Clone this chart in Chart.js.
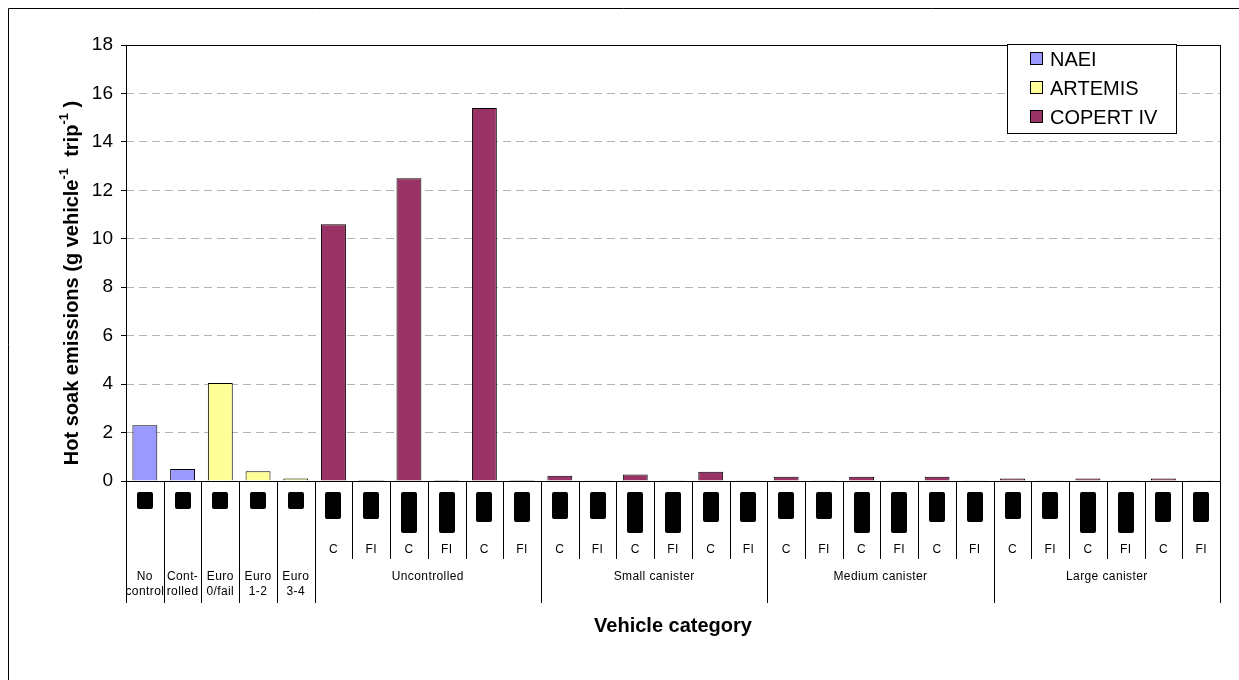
<!DOCTYPE html>
<html>
<head>
<meta charset="utf-8">
<script src="https://cdn.jsdelivr.net/npm/chart.js@4.4.1/dist/chart.umd.min.js"></script>
<style>
  html, body { margin: 0; padding: 0; background: #fff; }
  #wrap { width: 1239px; height: 680px; }
</style>
</head>
<body>
<div id="wrap"><canvas id="chart" width="1239" height="680"></canvas></div>
<script>
// ---- data ----
const topLabels = [["No", "control"], ["Cont-", "rolled"], ["Euro", "0/fail"], ["Euro", "1-2"], ["Euro", "3-4"]];
const subLabels = ["", "", "", "", "",
  "C", "FI", "C", "FI", "C", "FI",
  "C", "FI", "C", "FI", "C", "FI",
  "C", "FI", "C", "FI", "C", "FI",
  "C", "FI", "C", "FI", "C", "FI"];
const groupNames = ["Uncontrolled", "Small canister", "Medium canister", "Large canister"];
const groupSizes = [6, 6, 6, 6];
// engine size class of each category (drawn as blocks under the axis)
const sizeClass = [0, 0, 0, 0, 0,
  1, 1, 2, 2, 3, 3,
  1, 1, 2, 2, 3, 3,
  1, 1, 2, 2, 3, 3,
  1, 1, 2, 2, 3, 3];

const naei = [2.3, 0.5, null, null, null,
  null, null, null, null, null, null,
  null, null, null, null, null, null,
  null, null, null, null, null, null,
  null, null, null, null, null, null];
const artemis = [null, null, 4.05, 0.4, 0.1,
  null, null, null, null, null, null,
  null, null, null, null, null, null,
  null, null, null, null, null, null,
  null, null, null, null, null, null];
const copert = [null, null, null, null, null,
  10.6, 0.04, 12.5, 0.04, 15.4, 0.04,
  0.22, 0.03, 0.27, 0.03, 0.38, 0.03,
  0.18, 0.03, 0.18, 0.03, 0.18, 0.03,
  0.1, 0.03, 0.1, 0.03, 0.1, 0.03];

const yTicks = [0, 2, 4, 6, 8, 10, 12, 14, 16, 18];
const seriesNames = ["NAEI", "ARTEMIS", "COPERT IV"];
const seriesColors = ["#9999FF", "#FFFF99", "#993366"];

const FONT = 'Arial, "Liberation Sans", sans-serif';
const boxHeights = [17, 27, 41, 30];

// ---- plugins ----
const frame = {
  id: "frame",
  beforeDraw(chart) {
    const { ctx, width, height } = chart;
    ctx.save();
    ctx.fillStyle = "#fff";
    ctx.fillRect(0, 0, width, height);
    ctx.strokeStyle = "#000";
    ctx.lineWidth = 1;
    ctx.beginPath();
    ctx.moveTo(8.5, height);
    ctx.lineTo(8.5, 8.5);
    ctx.lineTo(width, 8.5);
    ctx.stroke();
    ctx.restore();
  }
};

const decor = {
  id: "decor",
  afterDraw(chart) {
    const { ctx, chartArea: a, scales: { x } } = chart;
    const n = subLabels.length;
    const w = x.getPixelForValue(1) - x.getPixelForValue(0);
    ctx.save();

    // plot border
    ctx.strokeStyle = "#000";
    ctx.lineWidth = 1;
    ctx.strokeRect(Math.round(a.left) + 0.5, Math.round(a.top) + 0.5,
      Math.round(a.right - a.left), Math.round(a.bottom - a.top));

    // blocks, sub labels, top labels
    ctx.fillStyle = "#000";
    ctx.textAlign = "center";
    ctx.textBaseline = "middle";
    ctx.font = "12px " + FONT;
    ctx.letterSpacing = "0.4px";
    for (let i = 0; i < n; i++) {
      const cx = x.getPixelForValue(i);
      ctx.beginPath();
      ctx.roundRect(Math.round(cx) - 8, a.bottom + 11, 16, boxHeights[sizeClass[i]], 2);
      ctx.fill();
      if (subLabels[i]) ctx.fillText(subLabels[i], cx, a.bottom + 69);
      if (topLabels[i]) {
        ctx.fillText(topLabels[i][0], cx, a.bottom + 96);
        ctx.fillText(topLabels[i][1], cx, a.bottom + 111);
      }
    }

    // group labels
    let start = topLabels.length;
    const longEdges = new Set();
    for (let i = 0; i <= start; i++) longEdges.add(i);
    groupNames.forEach((g, k) => {
      const cx = (x.getPixelForValue(start) + x.getPixelForValue(start + groupSizes[k] - 1)) / 2;
      ctx.fillText(g, cx, a.bottom + 96);
      start += groupSizes[k];
      longEdges.add(start);
    });
    ctx.letterSpacing = "0px";

    // separators
    ctx.beginPath();
    for (let i = 0; i <= n; i++) {
      const ex = Math.round(x.getPixelForValue(i) - w / 2) + 0.5;
      ctx.moveTo(ex, a.bottom);
      ctx.lineTo(ex, a.bottom + (longEdges.has(i) ? 122 : 78));
    }
    ctx.stroke();

    // x title
    ctx.font = "bold 20px " + FONT;
    ctx.fillText("Vehicle category", (a.left + a.right) / 2, 626);

    // y title with superscripts
    const parts = [["Hot soak emissions (g vehicle", false], ["-1", true], ["  trip", false], ["-1", true], [" )", false]];
    const fontOf = s => (s ? "bold 13px " : "bold 20px ") + FONT;
    let total = 0;
    parts.forEach(p => { ctx.font = fontOf(p[1]); total += ctx.measureText(p[0]).width; });
    ctx.translate(72, 283);
    ctx.rotate(-Math.PI / 2);
    ctx.textAlign = "left";
    let px = -total / 2;
    parts.forEach(p => {
      ctx.font = fontOf(p[1]);
      ctx.fillText(p[0], px, p[1] ? -8 : 0);
      px += ctx.measureText(p[0]).width;
    });
    ctx.setTransform(1, 0, 0, 1, 0, 0);

    // legend
    const lx = 1007, ly = 44, lw = 169, lh = 89;
    ctx.fillStyle = "#fff";
    ctx.fillRect(lx, ly, lw, lh);
    ctx.strokeStyle = "#000";
    ctx.strokeRect(lx + 0.5, ly + 0.5, lw, lh);
    ctx.font = "20px " + FONT;
    ctx.textBaseline = "middle";
    seriesNames.forEach((s, k) => {
      const yy = 59 + k * 29;
      ctx.fillStyle = seriesColors[k];
      ctx.fillRect(1030.5, yy - 6.5, 12, 12);
      ctx.strokeRect(1030.5, yy - 6.5, 12, 12);
      ctx.fillStyle = "#000";
      ctx.fillText(s, 1050, yy + 1);
    });
    ctx.restore();
  }
};

// ---- chart ----
const bar = (label, data, color) => ({
  label, data,
  backgroundColor: color,
  borderColor: "#000",
  borderWidth: 1,
  grouped: false,
  barPercentage: 0.66,
  categoryPercentage: 1
});

new Chart(document.getElementById("chart"), {
  type: "bar",
  data: {
    labels: subLabels.map((s, i) => i),
    datasets: [
      bar(seriesNames[0], naei, seriesColors[0]),
      bar(seriesNames[1], artemis, seriesColors[1]),
      bar(seriesNames[2], copert, seriesColors[2])
    ]
  },
  options: {
    responsive: false,
    animation: false,
    devicePixelRatio: 1,
    layout: { padding: { left: 0, top: 45, right: 19, bottom: 0 } },
    plugins: { legend: { display: false }, tooltip: { enabled: false } },
    scales: {
      x: {
        grid: { display: false },
        border: { display: false },
        ticks: { display: false },
        afterFit(s) { s.height = 199; }
      },
      y: {
        min: 0, max: 18,
        afterFit(s) { s.width = 126; },
        afterBuildTicks(s) { s.ticks = yTicks.map(v => ({ value: v })); },
        border: { display: false, dash: [8, 5] },
        grid: {
          color: c => (c.tick.value === 0 || c.tick.value === 18) ? "rgba(0,0,0,0)" : "#b4b4b4",
          tickColor: "#000",
          tickLength: 5,
          tickBorderDash: []
        },
        ticks: {
          color: "#000",
          padding: 8,
          font: { family: FONT, size: 19 }
        }
      }
    }
  },
  plugins: [frame, decor]
});
</script>
</body>
</html>
